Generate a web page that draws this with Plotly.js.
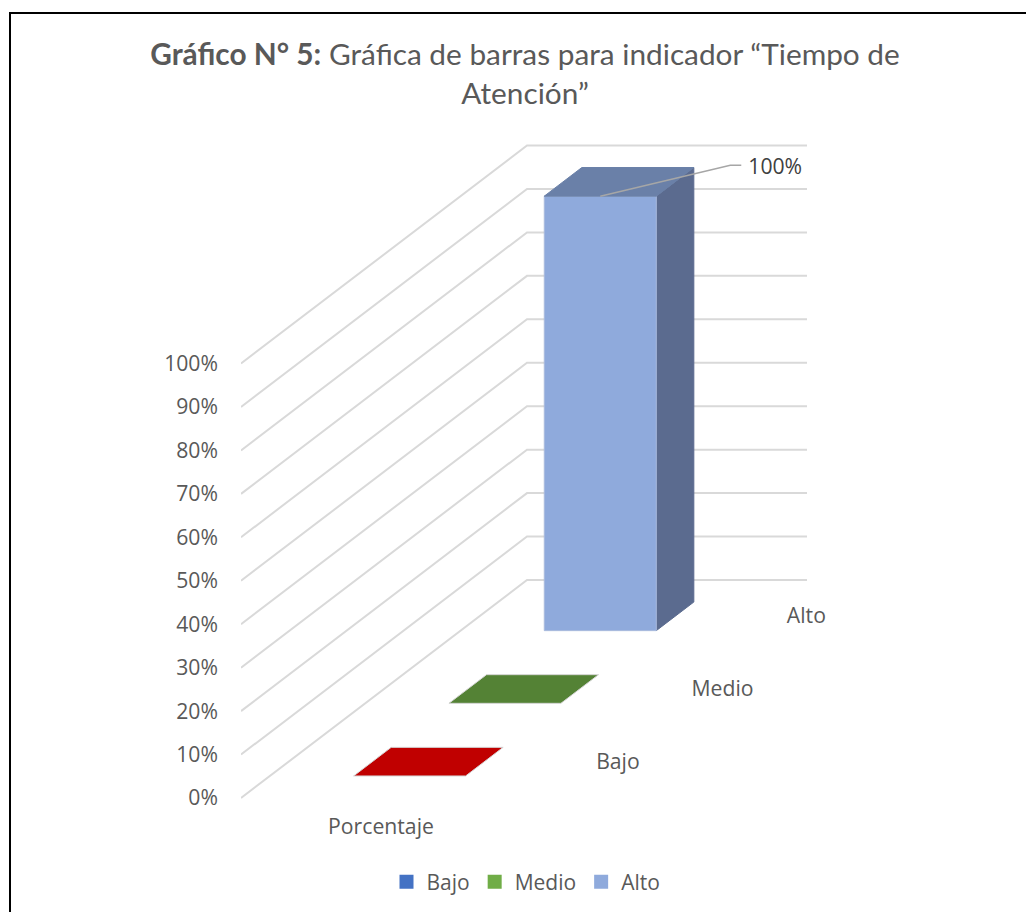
<!DOCTYPE html>
<html>
<head>
<meta charset="utf-8">
<script src="https://cdn.plot.ly/plotly-3.0.1.min.js"></script>
<style>
html,body{margin:0;padding:0;background:#fff;overflow:hidden}
#chart{position:absolute;left:0;top:0;width:1026px;height:912px}
#frame{position:absolute;left:9px;top:12px;right:-4px;bottom:-4px;border:2px solid #000;box-sizing:border-box;pointer-events:none}
</style>
</head>
<body>
<div id="frame"></div>
<div id="chart"></div>
<script>
// Data
const categories = ['Bajo', 'Medio', 'Alto'];
const values = [0, 0, 100];
const seriesLabel = 'Porcentaje';
const tickValues = [0, 10, 20, 30, 40, 50, 60, 70, 80, 90, 100];
const faceColors = ['#C00000', '#548235', '#8FAADC'];
const sideColors = ['#900000', '#3F6128', '#5B6B8F'];
const topColors = ['#C00000', '#548235', '#6A80A8'];
const legendColors = ['#4472C4', '#70AD47', '#8FAADC'];
const titleText = '<b>Gráfico N° 5:</b> Gráfica de barras para indicador “Tiempo de<br>Atención”';

// Oblique projection of the chart's (width, depth, value) space onto the 2D axes
const pxPerUnit = 4.345;
const wallWidth = 280, depthX = 286, depthY = 218 / pxPerUnit;
const nDepth = categories.length;
const px = (w, d) => w * wallWidth + d / nDepth * depthX;
const py = (d, v) => v + d / nDepth * depthY;
const polygon = pts => ({
  x: pts.map(p => px(p[0], p[1])).concat(px(pts[0][0], pts[0][1])),
  y: pts.map(p => py(p[1], p[2])).concat(py(pts[0][1], pts[0][2]))
});

const font = 'Open Sans, sans-serif';
const textColor = '#595959';
const labelSize = 21.2;
const traces = [];

// Wall gridlines
tickValues.forEach(v => {
  traces.push({
    type: 'scatter', mode: 'lines', showlegend: false, hoverinfo: 'skip',
    x: [px(0, 0), px(0, nDepth), px(1, nDepth)],
    y: [py(0, v), py(nDepth, v), py(nDepth, v)],
    line: {color: '#D9D9D9', width: 2}
  });
});

// Bars
const w0 = 0.299, w1 = 0.699, halfDepth = 0.197;
categories.forEach((c, i) => {
  const d0 = i + 0.5 - halfDepth, d1 = i + 0.5 + halfDepth, v = values[i];
  const face = (pts, fill, edge) => traces.push(Object.assign(polygon(pts), {
    type: 'scatter', mode: 'lines', fill: 'toself', fillcolor: fill, name: c,
    showlegend: false, hoverinfo: 'skip', line: {color: edge, width: 1}
  }));
  if (v > 0) {
    face([[w1, d0, 0], [w1, d1, 0], [w1, d1, v], [w1, d0, v]], sideColors[i], sideColors[i]);
    face([[w0, d0, 0], [w1, d0, 0], [w1, d0, v], [w0, d0, v]], faceColors[i], '#A9BBDD');
  }
  face([[w0, d0, v], [w1, d0, v], [w1, d1, v], [w0, d1, v]], topColors[i], v > 0 ? topColors[i] : '#D5D5D5');
});

// Data label with leader line
const li = values.indexOf(100);
const lx = px((w0 + w1) / 2, li + 0.5 - halfDepth), ly = py(li + 0.5 - halfDepth, values[li]);
traces.push({
  type: 'scatter', mode: 'lines', showlegend: false, hoverinfo: 'skip',
  x: [lx, lx + 130, lx + 141],
  y: [ly, ly + 31 / pxPerUnit, ly + 31 / pxPerUnit],
  line: {color: '#A6A6A6', width: 1.5}
});
traces.push({
  type: 'scatter', mode: 'text', showlegend: false, hoverinfo: 'skip', cliponaxis: false,
  x: [lx + 148], y: [ly + 27 / pxPerUnit], text: [values[li] + '%'],
  textposition: 'middle right', textfont: {family: font, size: labelSize, color: '#404040'}
});

// Category labels along the depth axis
traces.push({
  type: 'scatter', mode: 'text', showlegend: false, hoverinfo: 'skip', cliponaxis: false,
  x: categories.map((c, i) => px(1, i + 0.5) + 27.5),
  y: categories.map((c, i) => py(i + 0.5, -0.4)),
  text: categories, textposition: 'middle right',
  textfont: {family: font, size: labelSize, color: textColor}
});
traces.push({
  type: 'scatter', mode: 'text', showlegend: false, hoverinfo: 'skip', cliponaxis: false,
  x: [px(0.5, 0)], y: [py(0, -7.1)], text: [seriesLabel], textposition: 'middle center',
  textfont: {family: font, size: labelSize, color: textColor}
});

// Legend entries
categories.forEach((c, i) => {
  traces.push({
    type: 'scatter', mode: 'markers', name: c, x: [null], y: [null], hoverinfo: 'skip',
    marker: {symbol: 'square', size: 14, color: legendColors[i]}
  });
});

const leftPx = 241, topPx = 130, rightPx = 1026, bottomPx = 912, zeroPx = 798;
const layout = {
  width: 1026, height: 912,
  paper_bgcolor: 'rgba(0,0,0,0)', plot_bgcolor: 'rgba(0,0,0,0)',
  margin: {l: leftPx, r: 1026 - rightPx, t: topPx, b: 912 - bottomPx, pad: 0, autoexpand: false},
  title: {
    text: titleText, xref: 'container', yref: 'container',
    x: 525 / 1026, xanchor: 'center', y: 1 - 65 / 912, yanchor: 'top',
    font: {family: 'Lato, sans-serif', size: 29.8, color: textColor}
  },
  xaxis: {range: [0, rightPx - leftPx], visible: false, fixedrange: true},
  yaxis: {
    range: [(zeroPx - bottomPx) / pxPerUnit, (zeroPx - topPx) / pxPerUnit],
    tickmode: 'array', tickvals: tickValues, ticktext: tickValues.map(v => v + '%'),
    showgrid: false, zeroline: false, showline: false, ticks: '', ticklabelstandoff: 22,
    tickfont: {family: font, size: labelSize, color: textColor}, fixedrange: true
  },
  showlegend: true,
  legend: {
    orientation: 'h', xref: 'container', yref: 'container',
    x: 526 / 1026, xanchor: 'center', y: 1 - 882 / 912, yanchor: 'middle',
    font: {family: font, size: 21, color: textColor}, bgcolor: 'rgba(0,0,0,0)', itemclick: false, itemdoubleclick: false
  }
};
Plotly.newPlot('chart', traces, layout, {displayModeBar: false, staticPlot: true});
</script>
</body>
</html>
